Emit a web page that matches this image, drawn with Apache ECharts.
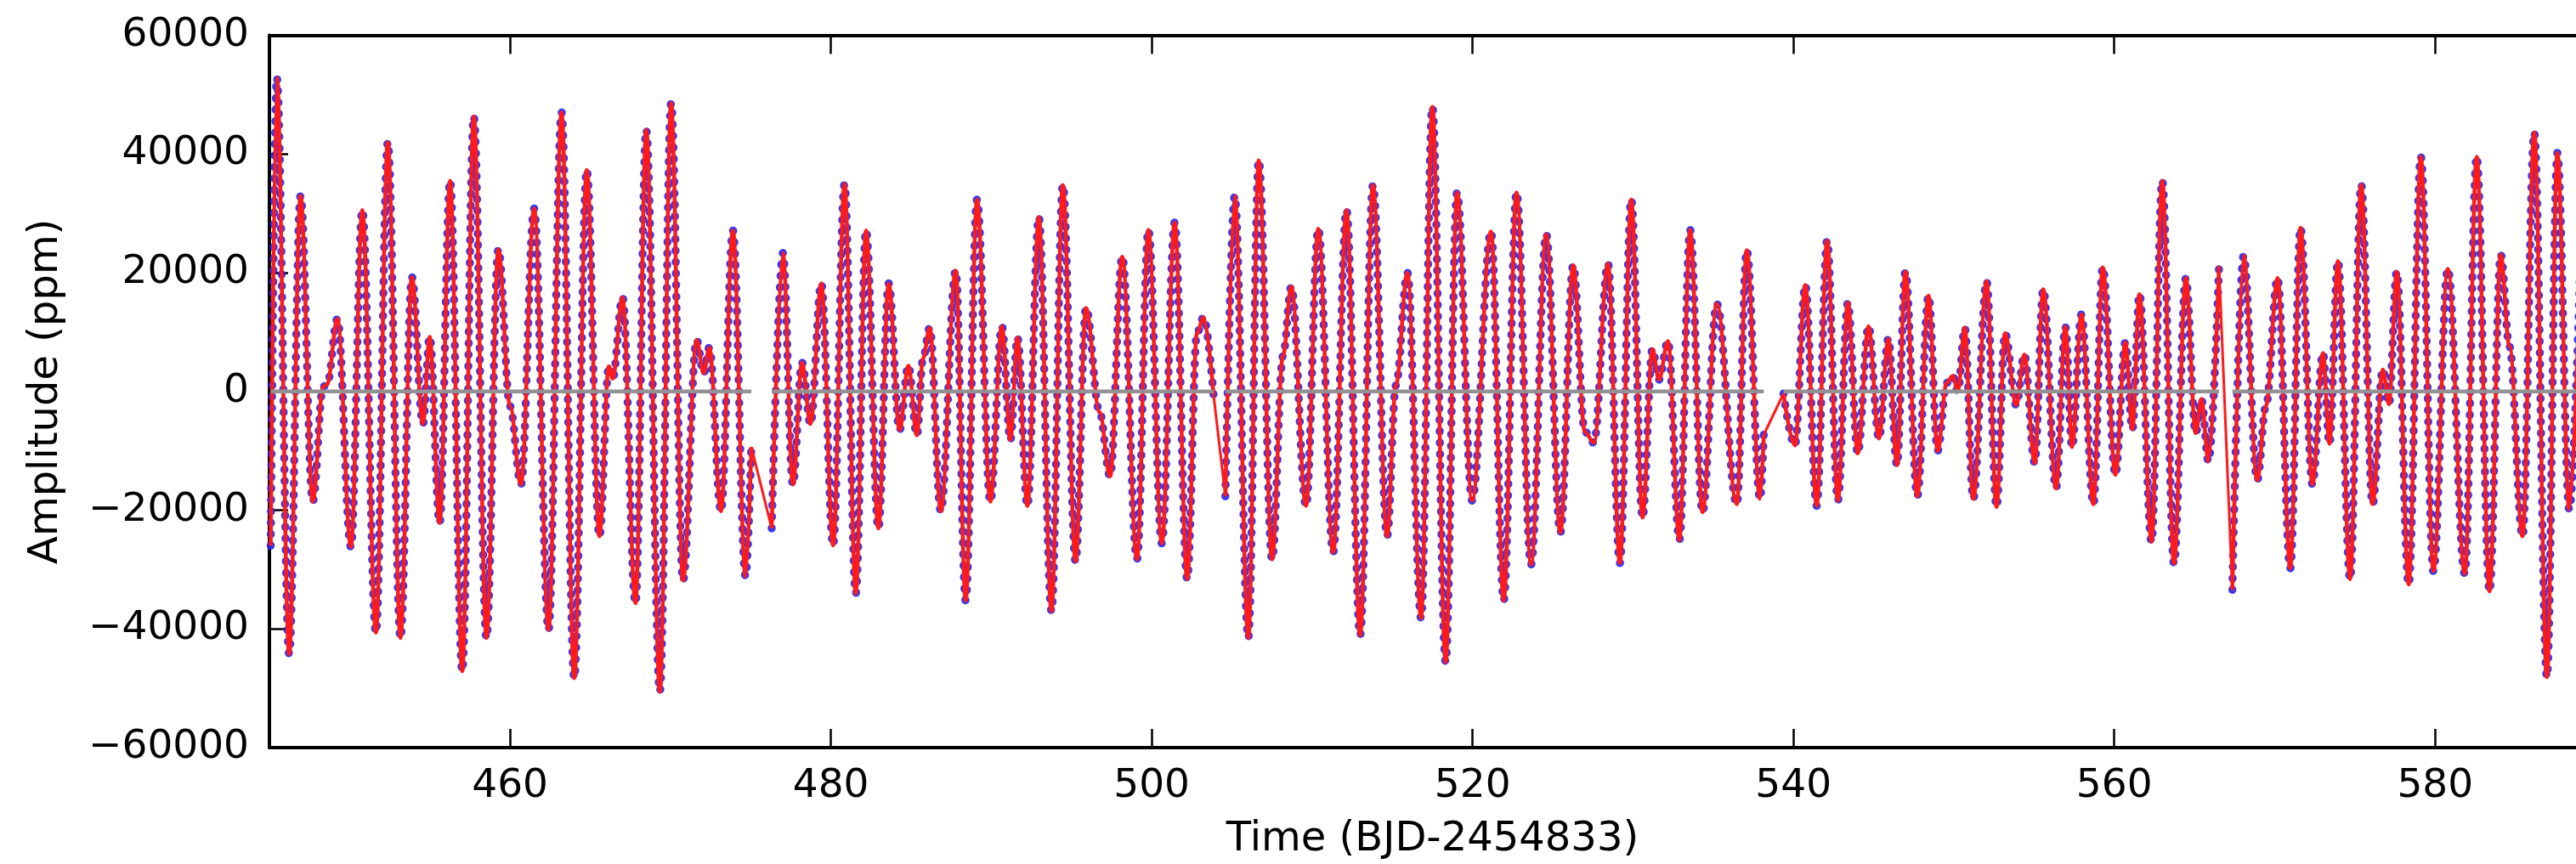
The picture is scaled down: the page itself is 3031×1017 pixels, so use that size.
<!DOCTYPE html>
<html><head><meta charset="utf-8">
<script src="https://cdn.jsdelivr.net/npm/echarts@6/dist/echarts.min.js"></script>
<style>html,body{margin:0;padding:0;background:#fff}#c{width:3031px;height:1017px}</style>
</head><body><div id="c"></div>
<script>
// Light curve extrema (time in BJD-2454833, amplitude in ppm), per continuous data segment
const timeSeg1 = [445.08,445.46,446.23,446.94,447.70,448.35,448.60,449.24,450.08,450.79,451.64,452.38,453.17,453.88,454.57,454.99,455.61,456.26,457.02,457.74,458.53,459.27,460.00,460.68,461.50,462.40,463.21,464.00,464.78,465.57,466.16,466.40,467.01,467.82,468.49,469.34,470.04,470.78,471.63,472.07,472.42,473.15,473.89,474.68,475.04];
const ampSeg1  = [-26000,52880,-44230,32970,-18560,800,1200,12250,-26220,30540,-40630,41980,-41530,19280,-5500,9190,-22160,35500,-47120,46300,-41530,23960,-2500,-15680,30810,-40180,47030,-48290,37300,-24410,4230,2160,15860,-35680,44050,-50540,48560,-31840,8650,3060,7390,-20180,27120,-31170,-9370];
const timeSeg2 = [476.31,477.01,477.63,478.20,478.73,479.40,480.14,480.85,481.55,482.19,482.96,483.60,484.28,484.83,485.36,485.74,486.16,486.85,487.78,488.40,489.11,489.94,490.66,491.19,491.63,492.25,492.96,493.75,494.46,495.25,495.90,496.75,497.40,498.16,499.08,499.79,500.63,501.43,502.21,502.82,503.23,503.85];
const ampSeg2  = [-23060,23330,-15680,4860,-5500,18200,-25950,34950,-34050,27120,-23060,18200,-6500,4320,-7390,5500,10720,-20180,20360,-35230,32340,-18560,10990,-8200,9100,-19280,29370,-37030,34770,-28650,14050,-3500,-14300,22700,-28290,27210,-25590,28470,-31620,9820,12520,-500];
const timeSeg3 = [504.59,505.17,506.02,506.67,507.50,508.18,508.70,509.62,510.38,511.31,512.14,512.99,513.79,514.67,515.22,515.94,516.79,517.49,518.32,519.03,519.97,521.15,521.94,522.74,523.64,524.59,525.47,526.27,527.00,527.56,528.44,529.18,529.89,530.59,531.21,531.62,532.18,532.89,533.56,534.33,535.22,536.47,537.09,537.92,538.15];
const ampSeg3  = [-17660,32970,-41530,38920,-28290,6000,17660,-19280,27390,-27120,30540,-41080,34770,-24410,1000,20000,-38200,47930,-45590,33510,-18380,26940,-35230,33510,-29190,26490,-23780,21260,-6800,-8650,21530,-28920,32340,-21260,7120,1980,8470,-25050,27210,-20360,14770,-19010,23780,-18110,-7300];
const timeSeg4 = [539.38,540.09,540.74,541.45,542.10,542.77,543.39,544.01,544.68,545.33,545.92,546.45,546.98,547.72,548.42,548.99,549.55,549.93,550.25,550.68,551.21,552.04,552.66,553.19,553.89,554.39,555.04,555.57,556.37,556.95,557.37,557.95,558.70,559.28,560.07,560.69,561.13,561.57,562.32,562.99,563.72,564.46,565.08,565.43,565.87,566.53];
const ampSeg4  = [-360,-9100,17930,-19280,25410,-18380,14950,-10450,10990,-7930,8920,-12430,20180,-17660,16130,-10000,1440,2610,0,10720,-18110,18560,-19460,9820,-2340,6220,-12070,17210,-16310,10900,-9370,12970,-19010,20900,-14050,8290,-6400,16400,-25320,35500,-29000,19100,-7030,-1260,-11800,21080];
const timeSeg5 = [567.36,568.06,568.91,569.45,570.18,570.97,571.61,572.35,573.01,573.41,573.94,574.70,575.39,576.10,576.74,577.12,577.61,578.35,579.11,579.89,580.79,581.85,582.59,583.39,584.09,584.63,585.45,586.18,586.97,587.62,588.36,589.05];
const ampSeg5  = [-33420,22880,-14950,-2500,19100,-29820,27570,-15680,6490,-8830,21980,-31620,34860,-19010,3700,-2160,20180,-32520,39550,-30270,20630,-30720,39550,-33690,23060,7600,-24410,43600,-48110,40180,-19910,22000];
// residuals (data minus model) stay at about zero over each segment
const residualLevel = 0;

const xTicks = [460,480,500,520,540,560,580];
const xMin = 445, xMax = 590;
const yMin = -60000, yMax = 60000, yStep = 20000;

const segTimes = [timeSeg1,timeSeg2,timeSeg3,timeSeg4,timeSeg5];
const segAmps  = [ampSeg1,ampSeg2,ampSeg3,ampSeg4,ampSeg5];

const FONT = 'DejaVu Sans';
const series = [];
segTimes.forEach((ts, i) => {
  const data = ts.map((t, j) => [t, segAmps[i][j]]);
  series.push({
    type: 'line', data, smooth: 0.36, smoothMonotone: 'x', showSymbol: false, z: 1,
    xAxisIndex: 0, yAxisIndex: 0, silent: true,
    lineStyle: { color: 'rgba(35,35,235,0.9)', width: 9.5, type: [0.5, 13], cap: 'round' }
  });
  series.push({
    type: 'line', data, smooth: 0.36, smoothMonotone: 'x', showSymbol: false, z: 2,
    xAxisIndex: 0, yAxisIndex: 0, silent: true,
    lineStyle: { color: '#ff1a1a', width: 4.5 }
  });
});
for (let i = 0; i < segTimes.length - 1; i++) {
  const a = segTimes[i], b = segTimes[i + 1];
  series.push({
    type: 'line', showSymbol: false, z: 2, silent: true,
    data: [[a[a.length - 1], segAmps[i][a.length - 1]], [b[0], segAmps[i + 1][0]]],
    lineStyle: { color: '#ff1a1a', width: 3 }
  });
}
segTimes.forEach((ts) => {
  series.push({
    type: 'line', showSymbol: false, z: 3, silent: true,
    data: [[ts[0], residualLevel], [ts[ts.length - 1], residualLevel]],
    lineStyle: { color: '#929292', width: 4.5 }
  });
});

const axisLine = { show: true, onZero: false, lineStyle: { color: '#000', width: 4 } };
const tick = { show: true, inside: true, length: 22, lineStyle: { color: '#000', width: 2.5 } };
const fmtY = v => v < 0 ? '\u2212' + Math.abs(v) : String(v);

const chart = echarts.init(document.getElementById('c'), null, { renderer: 'canvas' });
chart.setOption({
  backgroundColor: '#fff',
  animation: false,
  grid: { left: 317, top: 41.5, width: 2737, height: 838.5, containLabel: false, outerBoundsMode: 'none' },
  xAxis: [
    { type: 'value', position: 'bottom', min: xMin, max: xMax,
      axisLine, axisTick: Object.assign({}, tick, { customValues: xTicks }),
      axisLabel: { customValues: xTicks, margin: 22, fontSize: 47, fontFamily: FONT, color: '#000' },
      splitLine: { show: false },
      name: 'Time (BJD-2454833)', nameLocation: 'middle', nameGap: 85,
      nameTextStyle: { fontSize: 48, fontFamily: FONT, color: '#000' } },
    { type: 'value', position: 'top', min: xMin, max: xMax,
      axisLine, axisTick: Object.assign({}, tick, { customValues: xTicks }),
      axisLabel: { show: false }, splitLine: { show: false } }
  ],
  yAxis: [
    { type: 'value', position: 'left', min: yMin, max: yMax, interval: yStep,
      axisLine, axisTick: tick,
      axisLabel: { margin: 24, fontSize: 47, fontFamily: FONT, color: '#000', formatter: fmtY },
      splitLine: { show: false },
      name: 'Amplitude (ppm)', nameLocation: 'middle', nameGap: 238, nameRotate: 90,
      nameTextStyle: { fontSize: 48, fontFamily: FONT, color: '#000' } },
    { type: 'value', position: 'right', min: yMin, max: yMax, interval: yStep,
      axisLine, axisTick: tick, axisLabel: { show: false }, splitLine: { show: false } }
  ],
  series
});
</script></body></html>
